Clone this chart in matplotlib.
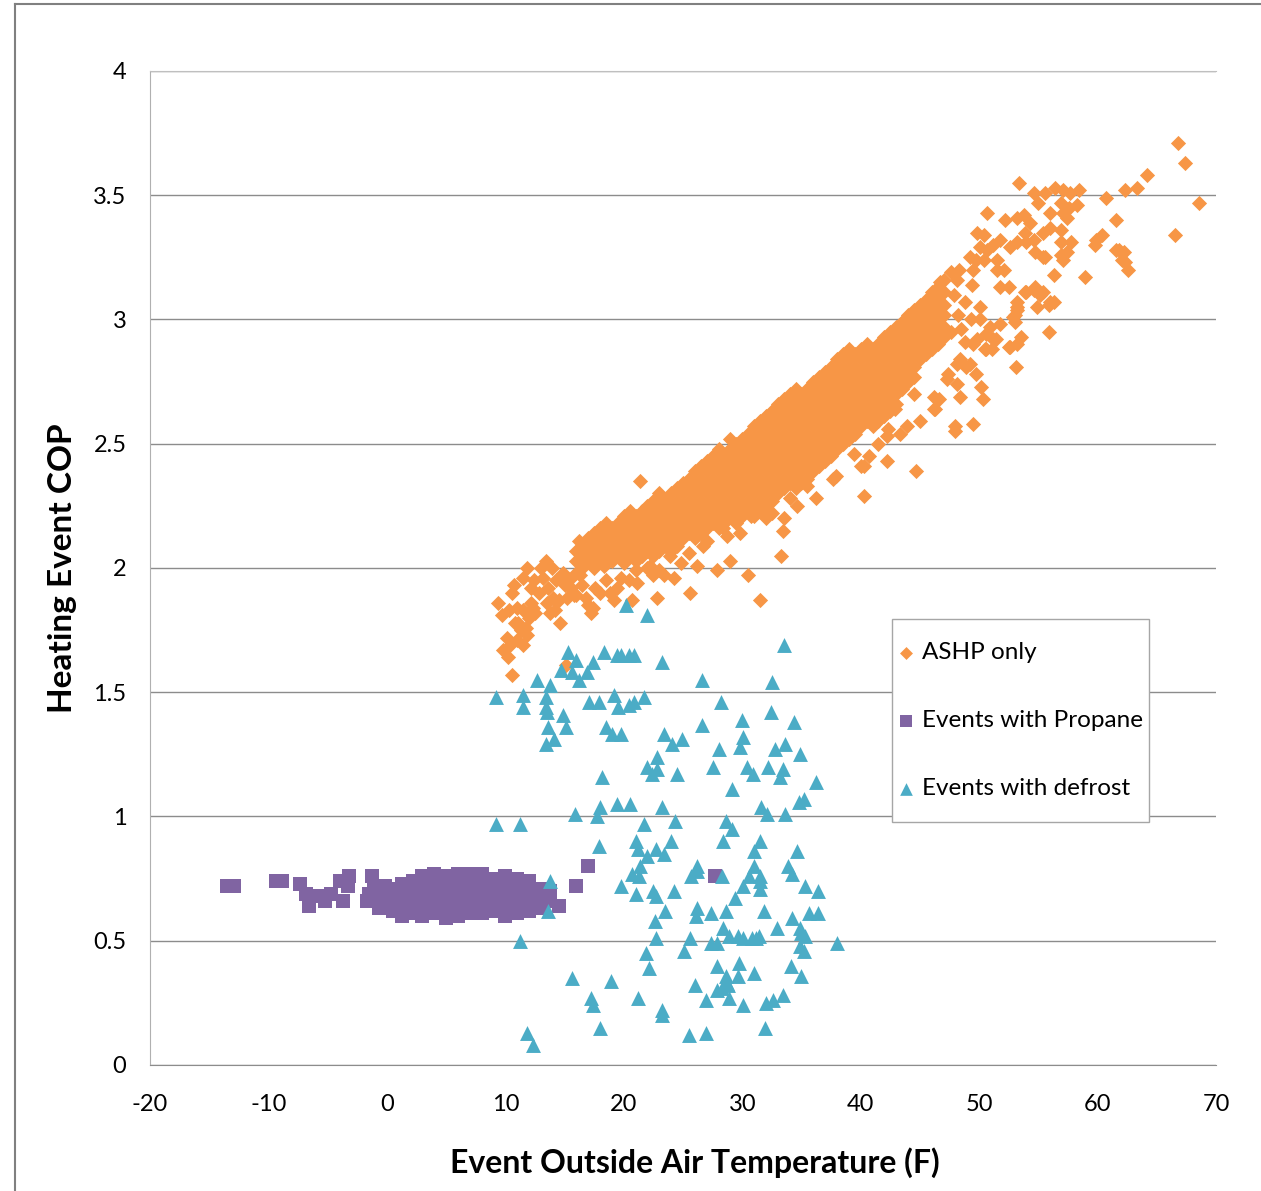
import numpy as np
import matplotlib.pyplot as plt
from matplotlib.lines import Line2D
from matplotlib.patches import Rectangle

# ASHP only: dense band, read column by column (temp, COP values)
ashp_core_a = [
    (16.0, [1.98, 2.03, 2.07]),
    (16.5, [2.00, 2.05, 2.09]),
    (17.0, [2.03, 2.07, 2.12]),
    (17.5, [2.00, 2.05, 2.09, 2.14]),
    (18.0, [2.03, 2.07, 2.12, 2.16]),
    (18.5, [2.05, 2.09, 2.14, 2.18]),
    (19.0, [2.03, 2.07, 2.12, 2.16]),
    (19.5, [2.05, 2.09, 2.14, 2.18]),
    (20.0, [2.03, 2.07, 2.12, 2.16, 2.21]),
    (20.5, [2.05, 2.09, 2.14, 2.18, 2.23]),
    (21.0, [2.03, 2.07, 2.12, 2.16, 2.21]),
    (21.5, [2.05, 2.09, 2.14, 2.18, 2.23]),
    (22.0, [2.07, 2.12, 2.16, 2.21, 2.25]),
    (22.5, [2.05, 2.09, 2.14, 2.18, 2.23, 2.27]),
    (23.0, [2.07, 2.12, 2.16, 2.21, 2.25, 2.30]),
    (23.5, [2.09, 2.14, 2.18, 2.23, 2.27]),
    (24.0, [2.07, 2.12, 2.16, 2.21, 2.25, 2.30]),
    (24.5, [2.09, 2.14, 2.18, 2.23, 2.27, 2.32]),
    (25.0, [2.12, 2.16, 2.21, 2.25, 2.30, 2.34]),
    (25.5, [2.14, 2.18, 2.23, 2.27, 2.32, 2.36]),
    (26.0, [2.12, 2.16, 2.21, 2.25, 2.30, 2.34, 2.39]),
    (26.5, [2.14, 2.18, 2.23, 2.27, 2.32, 2.36, 2.41]),
    (27.0, [2.16, 2.21, 2.25, 2.30, 2.34, 2.39, 2.43]),
    (27.5, [2.18, 2.23, 2.27, 2.32, 2.36, 2.41, 2.45]),
    (28.0, [2.16, 2.21, 2.25, 2.30, 2.34, 2.39, 2.43, 2.48]),
    (28.5, [2.18, 2.23, 2.27, 2.32, 2.36, 2.41, 2.45]),
    (29.0, [2.21, 2.25, 2.30, 2.34, 2.39, 2.43, 2.48, 2.52]),
    (29.5, [2.18, 2.23, 2.27, 2.32, 2.36, 2.41, 2.45, 2.50]),
    (30.0, [2.21, 2.25, 2.30, 2.34, 2.39, 2.43, 2.48, 2.52]),
    (30.5, [2.23, 2.27, 2.32, 2.36, 2.41, 2.45, 2.50, 2.54]),
    (31.0, [2.21, 2.25, 2.30, 2.34, 2.39, 2.43, 2.48, 2.52, 2.57]),
    (31.5, [2.23, 2.27, 2.32, 2.36, 2.41, 2.45, 2.50, 2.54, 2.59]),
]

ashp_core_b = [
    (32.0, [2.25, 2.30, 2.34, 2.39, 2.43, 2.48, 2.52, 2.57, 2.61]),
    (32.5, [2.27, 2.32, 2.36, 2.41, 2.45, 2.50, 2.54, 2.59, 2.63]),
    (33.0, [2.30, 2.34, 2.39, 2.43, 2.48, 2.52, 2.57, 2.61, 2.66]),
    (33.5, [2.32, 2.36, 2.41, 2.45, 2.50, 2.54, 2.59, 2.63, 2.68]),
    (34.0, [2.34, 2.39, 2.43, 2.48, 2.52, 2.57, 2.61, 2.66, 2.70]),
    (34.5, [2.32, 2.36, 2.41, 2.45, 2.50, 2.54, 2.59, 2.63, 2.68, 2.72]),
    (35.0, [2.34, 2.39, 2.43, 2.48, 2.52, 2.57, 2.61, 2.66, 2.70]),
    (35.5, [2.36, 2.41, 2.45, 2.50, 2.54, 2.59, 2.63, 2.68, 2.72]),
    (36.0, [2.39, 2.43, 2.48, 2.52, 2.57, 2.61, 2.66, 2.70, 2.75]),
    (36.5, [2.41, 2.45, 2.50, 2.54, 2.59, 2.63, 2.68, 2.72, 2.77]),
    (37.0, [2.43, 2.48, 2.52, 2.57, 2.61, 2.66, 2.70, 2.75, 2.79]),
    (37.5, [2.45, 2.50, 2.54, 2.59, 2.63, 2.68, 2.72, 2.77, 2.81]),
    (38.0, [2.48, 2.52, 2.57, 2.61, 2.66, 2.70, 2.75, 2.79, 2.84]),
    (38.5, [2.50, 2.54, 2.59, 2.63, 2.68, 2.72, 2.77, 2.81, 2.86]),
    (39.0, [2.52, 2.57, 2.61, 2.66, 2.70, 2.75, 2.79, 2.84, 2.88]),
    (39.5, [2.54, 2.59, 2.63, 2.68, 2.72, 2.77, 2.81, 2.86]),
    (40.0, [2.57, 2.61, 2.66, 2.70, 2.75, 2.79, 2.84, 2.88]),
    (40.5, [2.59, 2.63, 2.68, 2.72, 2.77, 2.81, 2.86, 2.90]),
    (41.0, [2.57, 2.61, 2.66, 2.70, 2.75, 2.79, 2.84, 2.88]),
    (41.5, [2.59, 2.63, 2.68, 2.72, 2.77, 2.81, 2.86, 2.90]),
    (42.0, [2.61, 2.66, 2.70, 2.75, 2.79, 2.84, 2.88, 2.93]),
    (42.5, [2.63, 2.68, 2.72, 2.77, 2.81, 2.86, 2.90, 2.95]),
    (43.0, [2.66, 2.70, 2.75, 2.79, 2.84, 2.88, 2.93, 2.97]),
    (43.5, [2.72, 2.77, 2.81, 2.86, 2.90, 2.95, 2.99]),
    (44.0, [2.75, 2.79, 2.84, 2.88, 2.93, 2.97, 3.02]),
    (44.5, [2.77, 2.81, 2.86, 2.90, 2.95, 2.99, 3.04]),
    (45.0, [2.84, 2.88, 2.93, 2.97, 3.02, 3.06]),
    (45.5, [2.86, 2.90, 2.95, 2.99, 3.04, 3.08]),
    (46.0, [2.88, 2.93, 2.97, 3.02, 3.06, 3.11]),
    (46.5, [2.90, 2.95, 2.99, 3.04, 3.08, 3.13]),
    (47.0, [2.93, 2.97, 3.02, 3.06, 3.11]),
]

# ASHP only: scattered points (temp, COP)
ashp_cold = [
    (16.2, 2.11), (11.8, 2.00), (13.0, 2.00), (13.9, 2.00), (11.5, 1.96), (12.4, 1.95),
    (10.7, 1.93), (10.6, 1.90), (12.2, 1.92), (13.6, 1.92), (9.4, 1.86), (9.7, 1.81),
    (11.0, 1.84), (11.5, 1.83), (12.2, 1.86), (12.5, 1.82), (13.5, 1.86), (13.8, 1.82),
    (11.1, 1.78), (11.3, 1.75), (11.7, 1.76), (10.1, 1.72), (10.4, 1.69), (11.0, 1.71),
    (11.5, 1.69), (10.2, 1.64), (10.6, 1.57), (14.6, 1.78), (14.5, 1.87), (15.2, 1.88),
    (15.8, 1.89), (14.9, 1.98), (15.4, 1.95), (16.3, 2.02), (17.0, 1.85), (17.4, 1.84),
    (17.2, 1.82), (15.1, 1.61), (9.8, 1.67), (16.9, 2.05), (16.3, 1.97), (15.5, 1.92),
    (16.0, 1.89), (14.2, 1.83), (15.0, 1.93), (16.5, 1.93), (17.6, 1.92), (18.0, 1.90),
    (18.5, 1.95), (14.3, 1.95), (13.2, 1.96), (12.8, 1.90), (14.0, 1.88), (16.8, 1.88),
    (12.0, 1.80), (11.8, 1.73), (10.8, 1.78), (12.3, 1.84), (10.3, 1.83), (13.4, 2.03),
]

ashp_mid = [
    (17.6, 2.11), (18.6, 2.13), (17.7, 2.05), (18.3, 2.01), (19.3, 2.06), (20.0, 2.10),
    (20.0, 2.02), (21.7, 2.07), (22.2, 2.01), (23.9, 2.05), (26.7, 2.09), (19.2, 1.87),
    (20.7, 1.87), (22.8, 1.88), (25.6, 1.90), (24.2, 1.96), (22.5, 1.97), (23.4, 1.97),
    (26.2, 2.01), (21.1, 1.94), (20.4, 1.95), (19.4, 1.92), (18.8, 1.90), (19.8, 1.96),
    (21.0, 1.99), (22.0, 2.00), (23.0, 1.99), (24.8, 2.02), (21.4, 2.35), (31.5, 1.87),
    (30.5, 1.97), (29.0, 2.03), (27.9, 1.99), (33.3, 2.05), (40.3, 2.29), (36.2, 2.28),
    (33.4, 2.15), (32.5, 2.22), (34.6, 2.25), (37.9, 2.37), (40.3, 2.41), (29.8, 2.14),
    (28.7, 2.13), (30.7, 2.21), (31.5, 2.25), (28.4, 2.16), (33.5, 2.20), (37.7, 2.36),
    (40.7, 2.45), (40.0, 2.41), (39.4, 2.46), (35.5, 2.33), (34.0, 2.28), (32.0, 2.20),
    (27.0, 2.11), (25.5, 2.06),
]

ashp_warm = [
    (44.7, 2.39), (42.2, 2.43), (48.0, 2.55), (49.5, 2.58), (53.1, 2.81), (50.2, 2.73),
    (50.3, 2.68), (49.7, 2.78), (48.4, 2.69), (47.3, 2.76), (46.2, 2.69), (46.2, 2.64),
    (45.0, 2.59), (43.9, 2.57), (43.3, 2.54), (48.1, 2.82), (48.9, 2.81), (50.6, 2.88),
    (51.2, 2.92), (52.6, 2.89), (53.5, 2.93), (55.9, 2.95), (54.6, 3.12), (56.0, 3.07),
    (55.4, 3.11), (53.9, 3.11), (56.3, 3.18), (58.9, 3.17), (62.6, 3.20), (62.1, 3.24),
    (61.6, 3.28), (57.1, 3.24), (57.4, 3.27), (55.4, 3.25), (59.8, 3.30), (52.9, 3.01),
    (53.2, 3.05), (50.9, 2.97), (51.8, 2.98), (49.8, 2.92), (50.6, 2.94), (42.2, 2.53),
    (42.3, 2.56), (42.9, 2.64), (41.5, 2.50), (44.5, 2.70), (48.1, 2.74), (47.4, 2.78),
    (46.6, 2.68), (46.3, 2.64), (48.0, 2.57), (48.4, 2.84), (49.2, 2.82), (49.5, 2.90),
    (48.8, 2.91), (51.4, 2.92), (50.5, 2.88), (51.1, 2.88), (53.2, 2.90), (52.5, 2.89),
    (47.6, 2.95), (48.2, 3.02), (47.9, 3.10), (48.8, 3.07), (49.3, 3.00), (48.5, 2.96),
    (50.1, 3.05), (50.1, 3.00), (53.0, 3.02), (53.0, 2.99), (54.9, 3.05), (56.3, 3.07),
    (55.9, 3.06), (53.2, 3.07), (53.2, 3.04), (54.7, 3.13), (55.1, 3.10), (54.0, 3.11),
]

ashp_top = [
    (45.9, 3.09), (47.0, 3.16), (46.7, 3.15), (47.6, 3.19), (48.1, 3.16), (48.3, 3.20),
    (49.2, 3.25), (49.4, 3.14), (49.5, 3.20), (51.5, 3.20), (52.1, 3.20), (51.8, 3.13),
    (52.5, 3.13), (49.7, 3.24), (50.4, 3.24), (51.5, 3.24), (50.1, 3.29), (50.7, 3.28),
    (51.2, 3.30), (51.8, 3.32), (52.6, 3.29), (53.2, 3.31), (54.0, 3.31), (49.8, 3.35),
    (50.4, 3.34), (52.2, 3.40), (53.2, 3.41), (53.8, 3.42), (54.3, 3.39), (53.9, 3.35),
    (54.6, 3.32), (54.7, 3.27), (55.6, 3.25), (56.9, 3.26), (57.8, 3.31), (56.9, 3.31),
    (56.9, 3.36), (56.0, 3.37), (55.4, 3.35), (53.4, 3.55), (50.7, 3.43), (54.6, 3.51),
    (55.0, 3.47), (55.6, 3.51), (56.4, 3.53), (57.1, 3.52), (57.7, 3.51), (58.4, 3.52),
    (56.9, 3.47), (57.6, 3.45), (58.3, 3.46), (56.0, 3.43), (57.1, 3.43), (57.4, 3.41),
    (60.7, 3.49), (62.3, 3.52), (63.3, 3.53), (64.2, 3.58), (61.6, 3.40), (60.4, 3.34),
    (59.9, 3.32), (61.8, 3.28), (62.2, 3.27), (62.3, 3.23), (66.8, 3.71), (67.4, 3.63),
    (68.6, 3.47), (66.5, 3.34),
]

# Events with Propane
propane_spread = [
    (-13.5, 0.72), (-12.9, 0.72), (-9.4, 0.74), (-8.9, 0.74), (-7.3, 0.73), (-6.8, 0.69),
    (-6.6, 0.64), (-5.9, 0.68), (-5.2, 0.66), (-4.7, 0.69), (-3.7, 0.66), (-4.0, 0.74),
    (-3.2, 0.76), (-3.3, 0.72), (-1.3, 0.76), (-1.7, 0.66), (-0.7, 0.63), (-1.1, 0.72),
    (-0.2, 0.72), (-1.5, 0.69), (-0.5, 0.67), (16.0, 0.72), (17.0, 0.80), (27.7, 0.76),
    (14.5, 0.64),
]

propane_cluster = [
    (0.5, [0.62, 0.67, 0.71]),
    (1.3, [0.60, 0.65, 0.69, 0.73]),
    (2.2, [0.61, 0.66, 0.70, 0.74]),
    (3.0, [0.60, 0.64, 0.69, 0.73, 0.76]),
    (4.0, [0.61, 0.65, 0.70, 0.74, 0.77]),
    (5.0, [0.59, 0.63, 0.68, 0.72, 0.76]),
    (6.0, [0.60, 0.65, 0.69, 0.74, 0.77]),
    (7.0, [0.61, 0.66, 0.70, 0.74, 0.77]),
    (8.0, [0.61, 0.65, 0.69, 0.73, 0.77]),
    (9.0, [0.62, 0.66, 0.71, 0.75]),
    (10.0, [0.60, 0.64, 0.69, 0.73, 0.76]),
    (11.0, [0.61, 0.66, 0.70, 0.75]),
    (12.0, [0.62, 0.66, 0.71, 0.74]),
    (13.0, [0.63, 0.67, 0.71]),
    (13.8, [0.66, 0.70]),
]

# Events with defrost
defrost_high = [
    (20.2, 1.85), (22.0, 1.81), (15.3, 1.66), (16.0, 1.63), (17.4, 1.62), (18.3, 1.66),
    (19.4, 1.65), (19.8, 1.65), (20.4, 1.65), (20.9, 1.65), (23.2, 1.62), (33.5, 1.69),
    (14.7, 1.59), (15.6, 1.58), (16.2, 1.55), (16.9, 1.58), (12.7, 1.55), (13.8, 1.53),
    (26.6, 1.55), (32.5, 1.54), (9.2, 1.48), (11.5, 1.49), (11.5, 1.44), (13.4, 1.48),
    (13.4, 1.44), (13.5, 1.42), (14.9, 1.41), (13.6, 1.36), (15.1, 1.36), (14.1, 1.31),
    (13.4, 1.29), (17.1, 1.46), (17.9, 1.46), (19.2, 1.49), (19.5, 1.44), (20.4, 1.45),
    (20.9, 1.46), (21.7, 1.48), (18.5, 1.36), (19.0, 1.33), (19.8, 1.33), (28.2, 1.46),
    (23.4, 1.33), (24.1, 1.29), (24.9, 1.31), (26.6, 1.37), (30.0, 1.39), (32.4, 1.42),
    (34.4, 1.38), (30.1, 1.32), (29.8, 1.28), (28.0, 1.27), (32.8, 1.27), (33.6, 1.29),
    (34.9, 1.25), (22.8, 1.24), (22.0, 1.20), (22.4, 1.17), (22.8, 1.19), (24.5, 1.17),
    (27.5, 1.20), (30.4, 1.20), (30.9, 1.17), (32.2, 1.20), (33.4, 1.19), (33.2, 1.16),
    (36.2, 1.14), (18.2, 1.16), (29.1, 1.11), (34.8, 1.06), (35.2, 1.07), (31.6, 1.04),
    (32.1, 1.01), (33.6, 1.01), (15.9, 1.01), (18.0, 1.04), (17.7, 1.00), (19.4, 1.05),
    (20.5, 1.05), (23.2, 1.04),
]

defrost_low = [
    (9.2, 0.97), (11.2, 0.97), (21.7, 0.97), (24.3, 0.98), (28.6, 0.98), (29.1, 0.95),
    (28.4, 0.90), (31.5, 0.90), (31.0, 0.86), (34.6, 0.86), (17.9, 0.88), (21.0, 0.90),
    (21.2, 0.87), (22.7, 0.87), (23.4, 0.85), (24.0, 0.90), (22.0, 0.84), (21.4, 0.80),
    (20.7, 0.77), (21.3, 0.76), (26.2, 0.80), (25.7, 0.76), (26.2, 0.78), (28.3, 0.76),
    (31.0, 0.80), (30.6, 0.76), (31.5, 0.76), (33.9, 0.80), (34.2, 0.77), (13.8, 0.74),
    (19.8, 0.72), (21.0, 0.69), (22.5, 0.70), (22.7, 0.68), (24.2, 0.70), (30.1, 0.72),
    (31.5, 0.71), (31.5, 0.74), (35.3, 0.72), (36.4, 0.70), (29.4, 0.67), (13.6, 0.62),
    (23.5, 0.62), (26.2, 0.63), (26.1, 0.60), (27.4, 0.61), (28.6, 0.62), (31.8, 0.62),
    (34.2, 0.59), (35.6, 0.61), (36.4, 0.61), (22.6, 0.58), (28.4, 0.55), (28.9, 0.52),
    (29.6, 0.52), (30.1, 0.51), (30.8, 0.51), (31.2, 0.51), (31.4, 0.52), (32.9, 0.55),
    (34.9, 0.55), (35.0, 0.53), (35.3, 0.52), (22.7, 0.51), (25.6, 0.51), (27.4, 0.49),
    (27.9, 0.49), (25.1, 0.46), (11.2, 0.50), (34.9, 0.48), (35.2, 0.46), (38.0, 0.49),
    (21.9, 0.45), (22.1, 0.39), (27.9, 0.40), (29.7, 0.41), (34.1, 0.40), (15.6, 0.35),
    (18.9, 0.34), (26.0, 0.32), (28.6, 0.36), (28.7, 0.33), (28.3, 0.31), (27.9, 0.30),
    (28.8, 0.32), (29.6, 0.36), (31.0, 0.37), (35.0, 0.36), (17.2, 0.27), (17.4, 0.24),
    (21.2, 0.27), (23.2, 0.20), (23.2, 0.22), (26.9, 0.26), (28.9, 0.27), (30.1, 0.24),
    (32.0, 0.25), (32.6, 0.26), (33.4, 0.28), (18.0, 0.15), (11.8, 0.13), (12.3, 0.08),
    (25.5, 0.12), (26.9, 0.13), (31.9, 0.15),
]

x_ticks = [-20, -10, 0, 10, 20, 30, 40, 50, 60, 70]
y_ticks = [0, 0.5, 1, 1.5, 2, 2.5, 3, 3.5, 4]
y_tick_labels = ["0", "0.5", "1", "1.5", "2", "2.5", "3", "3.5", "4"]


def from_columns(cols):
    xs, ys = [], []
    for t, cops in cols:
        xs += [t] * len(cops)
        ys += cops
    return xs, ys


def from_pairs(*groups):
    pts = [p for g in groups for p in g]
    return [p[0] for p in pts], [p[1] for p in pts]


plt.rcParams['font.family'] = ['Lato', 'DejaVu Sans']

fig = plt.figure(figsize=(12.61, 11.91), dpi=100)
ax = fig.add_axes([0.119, 0.1058, 0.8453, 0.8346])

cx_a, cy_a = from_columns(ashp_core_a)
cx_b, cy_b = from_columns(ashp_core_b)
sx, sy = from_pairs(ashp_cold, ashp_mid, ashp_warm, ashp_top)
ashp_x = cx_a + cx_b + sx
ashp_y = cy_a + cy_b + sy

px_c, py_c = from_columns(propane_cluster)
px_s, py_s = from_pairs(propane_spread)
dx, dy = from_pairs(defrost_high, defrost_low)

ax.scatter(ashp_x, ashp_y, marker="D", s=60, color="#F79646", linewidths=0,
           label="ASHP only", zorder=3)
ax.scatter(px_s + px_c, py_s + py_c, marker="s", s=105, color="#8064A2", linewidths=0,
           label="Events with Propane", zorder=4)
ax.scatter(dx, dy, marker="^", s=115, color="#4BACC6", linewidths=0,
           label="Events with defrost", zorder=5)

ax.set_xlim(-20, 70)
ax.set_ylim(0, 4)
ax.set_xticks(x_ticks)
ax.set_xticklabels([str(t) for t in x_ticks])
ax.set_yticks(y_ticks)
ax.set_yticklabels(y_tick_labels)
ax.tick_params(axis="both", length=0, labelsize=17)
ax.tick_params(axis="x", pad=21)
ax.tick_params(axis="y", pad=17)

ax.yaxis.grid(True, color="#8c8c8c", linewidth=1)
ax.set_axisbelow(True)
ax.spines["right"].set_visible(False)
ax.spines["top"].set_color("#bfbfbf")
ax.spines["left"].set_color("#b0b0b0")
ax.spines["bottom"].set_color("#8c8c8c")

ax.set_xlabel("Event Outside Air Temperature (F)", fontsize=23, fontweight="bold")
ax.xaxis.set_label_coords(0.511, -0.0986)
ax.xaxis.label.set_va("center")
ax.set_ylabel("Heating Event COP", fontsize=24, fontweight="bold")
ax.yaxis.set_label_coords(-0.0826, 0.5)
ax.yaxis.label.set_va("center")

# legend box drawn at the original's size, entries centred inside it
leg_box = (0.696, 0.2445, 0.2415, 0.2042)
ax.add_patch(Rectangle(leg_box[:2], leg_box[2], leg_box[3], transform=ax.transAxes,
                       facecolor="white", edgecolor="#a6a6a6", linewidth=1, zorder=6))
leg = ax.legend(loc="center", bbox_to_anchor=leg_box, borderaxespad=0, borderpad=0,
                fontsize=17.5, frameon=False, labelspacing=1.93, handlelength=0.6,
                handletextpad=0.35, markerscale=0.85)
leg.set_zorder(7)

# outer chart border (top and left edges visible in the original)
fig.add_artist(Line2D([0.0119, 1.0], [0.9966, 0.9966], transform=fig.transFigure,
                      color="#808080", linewidth=1.5))
fig.add_artist(Line2D([0.0119, 0.0119], [0.0, 0.9966], transform=fig.transFigure,
                      color="#808080", linewidth=1.5))

fig.savefig("out.png", dpi=100)
